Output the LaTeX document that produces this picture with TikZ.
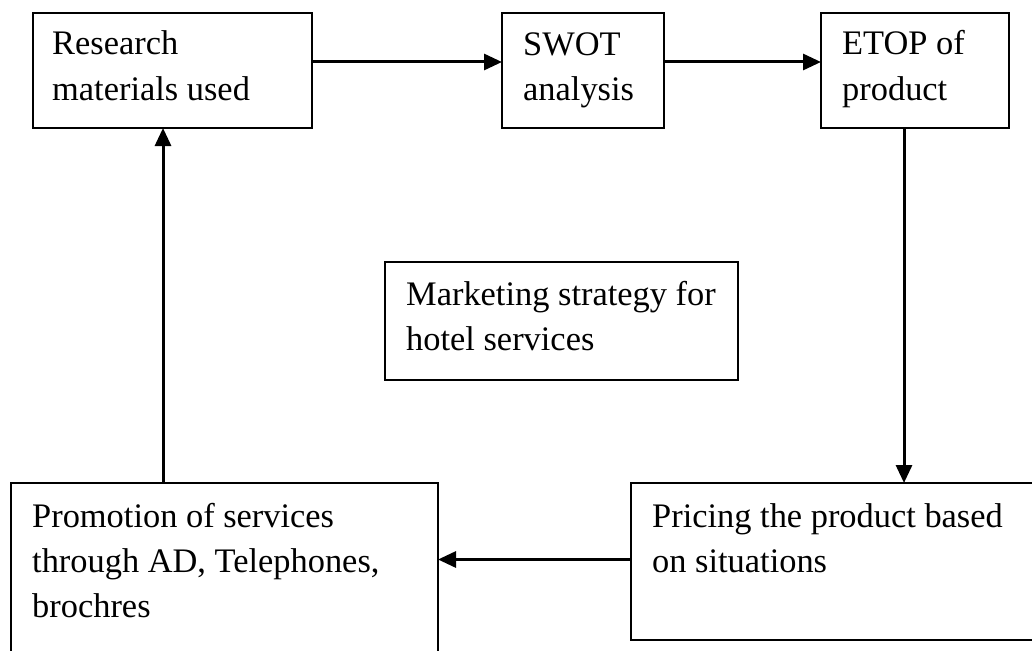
\documentclass[tikz,border=0pt]{standalone}
\usepackage{fontspec}
\setmainfont{Liberation Serif}
\usetikzlibrary{arrows.meta}
\tikzset{
  stage/.style={draw=black, line width=2.4pt, rectangle, inner sep=0pt, outer sep=0pt, anchor=north west},
  label/.style={anchor=base west, inner sep=0pt, align=left,
    font=\fontsize{34.4pt}{45pt}\selectfont},
  flow/.style={line width=3pt, -{Triangle[length=18pt,width=16pt]}}
}
\begin{document}
\begin{tikzpicture}[x=1pt,y=-1pt]
\clip (0,0) rectangle (1032,650);
\useasboundingbox (0,0) rectangle (1032,650);
\fill[white] (0,0) rectangle (1032,650);

% boxes
\node[stage, minimum width=279pt, minimum height=115pt] (res) at (33,13) {};
\node[stage, minimum width=162pt, minimum height=115pt] (swot) at (502,13) {};
\node[stage, minimum width=188pt, minimum height=115pt] (etop) at (821,13) {};
\node[stage, minimum width=353pt, minimum height=118pt] (mkt) at (385,262) {};
\node[stage, minimum width=427pt, minimum height=220pt] (promo) at (11,483) {};
\node[stage, minimum width=410pt, minimum height=157pt] (price) at (631,483) {};

% texts (anchored at the baseline of the last line)
\node[label] (tres) at (52,100) {Research\\materials used};
\node[label] (tswot) at (523,101) {SWOT\\analysis};
\node[label] (tetop) at (842,100) {ETOP of\\product};
\node[label] (tmkt) at (406,350) {Marketing strategy for\\hotel services};
\node[label] (tpromo) at (32,617) {Promotion of services\\through AD, Telephones,\\brochres};
\node[label] (tprice) at (652,572) {Pricing the product based\\on situations};

% connectors
\draw[flow] ([yshift=8.5pt]res.east) -- ([yshift=8.5pt]swot.west);
\draw[flow] ([yshift=8.5pt]swot.east) -- ([yshift=8.5pt]etop.west);
\draw[flow] ([xshift=-11pt]etop.south) -- ([xshift=-11pt]etop.south |- price.north);
\draw[flow] ([yshift=2pt]price.west) -- ([yshift=2pt]price.west -| promo.east);
\draw[flow] ([xshift=-9.5pt]res.south |- promo.north) -- ([xshift=-9.5pt]res.south);
\end{tikzpicture}
\end{document}
